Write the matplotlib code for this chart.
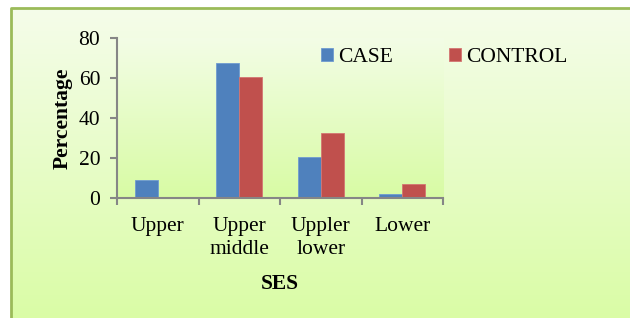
import numpy as np
import matplotlib
matplotlib.use("Agg")
import matplotlib.pyplot as plt
from matplotlib.colors import LinearSegmentedColormap
from matplotlib.lines import Line2D

plt.rcParams['font.family'] = ['Liberation Serif', 'DejaVu Serif']

categories = ['Upper', 'Upper\nmiddle', 'Uppler\nlower', 'Lower']
case_vals = [9, 67.3, 20.7, 2.2]
control_vals = [0, 60.3, 32.3, 7]
series_names = ['CASE', 'CONTROL']
colors = ['#4f81bd', '#c0504d']
yticks = [0, 20, 40, 60, 80]

W, H = 630, 318
fig = plt.figure(figsize=(W / 100, H / 100), dpi=100)
fig.patch.set_facecolor('white')

# figure background gradient inside the green frame
x0, y1 = 11 / W, 1 - 8 / H
bg = fig.add_axes([x0, 0, 1 - x0, y1], zorder=-5)
bg.set_axis_off()
cmap_bg = LinearSegmentedColormap.from_list('bg', ['#dafca6', '#f5fdea'])
bg.imshow(np.linspace(0, 1, 256).reshape(-1, 1), cmap=cmap_bg, aspect='auto',
          origin='lower', extent=[0, 1, 0, 1])
bg.set_xlim(0, 1)
bg.set_ylim(0, 1)
# frame: only the top and left edges are inside the picture
fig.lines.append(Line2D([x0, x0, 1], [0, y1, y1], transform=fig.transFigure,
                        color='#9bbb59', linewidth=2, zorder=10))

ax = fig.add_axes([117 / W, 1 - 198 / H, 326 / W, 160 / H])
ax.patch.set_alpha(0)
cmap_ax = LinearSegmentedColormap.from_list('ax', ['#d8fba4', '#f3fde6'])
ax.imshow(np.linspace(0, 1, 256).reshape(-1, 1), cmap=cmap_ax, aspect='auto',
          origin='lower', extent=[0, 1, 0, 1], transform=ax.transAxes, zorder=0)

x = np.arange(len(categories))
bw = 0.28
ax.bar(x - bw / 2, case_vals, bw, color=colors[0], edgecolor='#6f9bd0',
       linewidth=0.6, label=series_names[0], zorder=2)
ax.bar(x + bw / 2, control_vals, bw, color=colors[1], edgecolor='#d47572',
       linewidth=0.6, label=series_names[1], zorder=2)

ax.set_xlim(-0.5, len(categories) - 0.5)
ax.set_ylim(0, 80)
ax.set_yticks(yticks)
ax.set_xticks(x)
ax.set_xticklabels(categories, linespacing=1.3)
ax.set_xticks(np.arange(len(categories) + 1) - 0.5, minor=True)

for s in ['top', 'right']:
    ax.spines[s].set_visible(False)
for s in ['left', 'bottom']:
    ax.spines[s].set_color('#868686')
    ax.spines[s].set_linewidth(1.5)
    ax.spines[s].set_zorder(3)

fs = 15.5
ax.tick_params(axis='x', which='major', length=0, pad=13.5, labelsize=fs)
ax.tick_params(axis='x', which='minor', length=5, width=1.5, color='#868686')
ax.tick_params(axis='y', length=5, width=1.5, color='#868686', pad=7, labelsize=fs)

ax.set_ylabel('Percentage', fontsize=fs, fontweight='bold', labelpad=4)
ax.set_xlabel('SES', fontsize=fs, fontweight='bold', labelpad=11)

ax.legend(loc='upper left', bbox_to_anchor=(321 / W, 1 - 48 / H),
          bbox_transform=fig.transFigure, ncol=2, frameon=False, fontsize=fs,
          handlelength=0.55, handleheight=0.55, handletextpad=0.25,
          columnspacing=2.6, borderaxespad=0, borderpad=0)

fig.savefig('out.png', dpi=100)
